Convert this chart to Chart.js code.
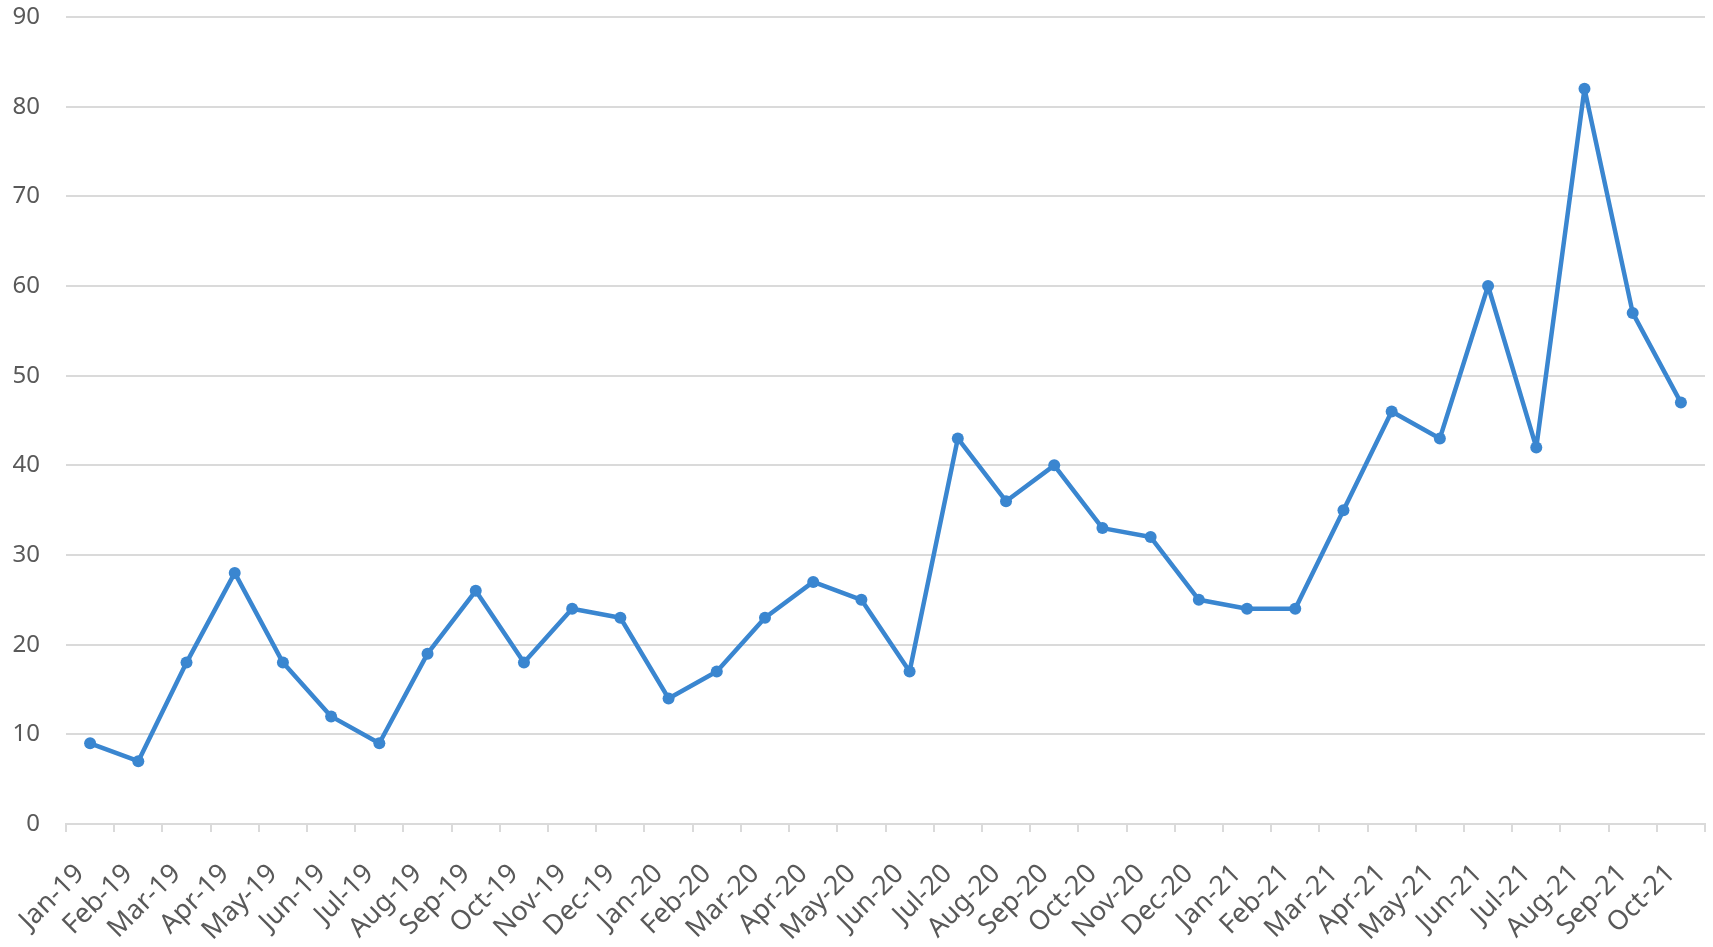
<!DOCTYPE html>
<html>
<head>
<meta charset="utf-8">
<script src="https://cdn.jsdelivr.net/npm/chart.js@4"></script>
<style>
  html, body { margin: 0; padding: 0; background: #fff; }
  #wrap { width: 1713px; height: 947px; }
</style>
</head>
<body>
<div id="wrap"><canvas id="myChart"></canvas></div>
<script>
// months on the x axis
var months = [
  "Jan-19", "Feb-19", "Mar-19", "Apr-19", "May-19", "Jun-19", "Jul-19", "Aug-19", "Sep-19", "Oct-19", "Nov-19", "Dec-19",
  "Jan-20", "Feb-20", "Mar-20", "Apr-20", "May-20", "Jun-20", "Jul-20", "Aug-20", "Sep-20", "Oct-20", "Nov-20", "Dec-20",
  "Jan-21", "Feb-21", "Mar-21", "Apr-21", "May-21", "Jun-21", "Jul-21", "Aug-21", "Sep-21", "Oct-21"
];
// monthly values
var counts = [
  9, 7, 18, 28, 18, 12, 9, 19, 26, 18, 24, 23,
  14, 17, 23, 27, 25, 17, 43, 36, 40, 33, 32, 25,
  24, 24, 35, 46, 43, 60, 42, 82, 57, 47
];
var yMin = 0, yMax = 90, yStep = 10;

var lineColor = "#3a86d0";
var gridColor = "#dadada";
var textColor = "#595959";

new Chart("myChart", {
  type: "line",
  data: {
    labels: months,
    datasets: [{
      data: counts,
      borderColor: lineColor,
      backgroundColor: lineColor,
      borderWidth: 4.5,
      borderJoinStyle: "round",
      pointRadius: 6,
      pointBorderWidth: 0,
      tension: 0,
      fill: false
    }]
  },
  options: {
    responsive: true,
    maintainAspectRatio: false,
    animation: false,
    layout: { padding: { top: 17, right: 8, left: 0, bottom: 0 } },
    plugins: {
      legend: { display: false },
      tooltip: { enabled: false }
    },
    scales: {
      x: {
        offset: true,
        grid: {
          offset: true,
          drawOnChartArea: false,
          drawTicks: true,
          tickLength: 8,
          color: gridColor,
          lineWidth: 2
        },
        border: { color: gridColor, width: 2 },
        ticks: {
          autoSkip: false,
          minRotation: 45,
          maxRotation: 45,
          padding: 26,
          labelOffset: -10,
          color: textColor,
          font: { family: "'Noto Sans', 'Open Sans', sans-serif", size: 27 }
        },
        afterFit: function (scale) { scale.height = 123; scale.paddingLeft = 0; scale.paddingRight = 0; }
      },
      y: {
        min: yMin,
        max: yMax,
        ticks: {
          stepSize: yStep,
          padding: 26,
          color: textColor,
          font: { family: "'Noto Sans', 'Open Sans', sans-serif", size: 24 }
        },
        grid: { color: gridColor, lineWidth: 2, drawTicks: false },
        border: { display: false },
        afterFit: function (scale) { scale.width = 66; scale.paddingTop = 0; scale.paddingBottom = 0; }
      }
    }
  }
});
</script>
</body>
</html>
